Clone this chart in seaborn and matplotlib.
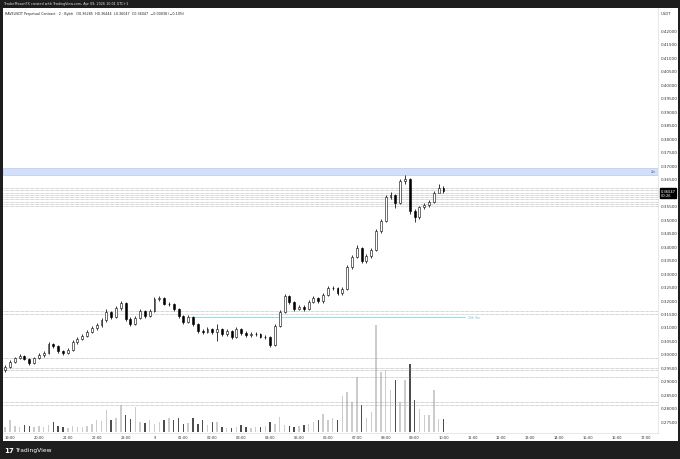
import numpy as np
import pandas as pd
import matplotlib
matplotlib.use("Agg")
import matplotlib.pyplot as plt
from matplotlib.patches import Rectangle
import seaborn as sns

sns.set_theme(style="white")
plt.rcParams['font.family'] = ['DejaVu Sans']

# ---------------- data (10-minute bars) ----------------
FIRST_OPEN = 0.2940
CLOSE = [0.2952, 0.2970, 0.2985, 0.2993, 0.2982, 0.2967, 0.2985, 0.2996, 0.3004, 0.3037,
         0.3030, 0.3011, 0.3004, 0.3015, 0.3044, 0.3056, 0.3067, 0.3081, 0.3096, 0.3107,
         0.3126, 0.3156, 0.3137, 0.3170, 0.3190, 0.3130, 0.3111, 0.3133, 0.3159, 0.3141,
         0.3159, 0.3204, 0.3207, 0.3185, 0.3185, 0.3167, 0.3141, 0.3119, 0.3137, 0.3111,
         0.3085, 0.3081, 0.3093, 0.3081, 0.3093, 0.3074, 0.3085, 0.3063, 0.3093, 0.3078,
         0.3070, 0.3074, 0.3074, 0.3063, 0.3063, 0.3033, 0.3104, 0.3156, 0.3215, 0.3193,
         0.3167, 0.3174, 0.3167, 0.3193, 0.3207, 0.3196, 0.3219, 0.3244, 0.3244, 0.3226,
         0.3241, 0.3322, 0.3359, 0.3393, 0.3344, 0.3363, 0.3385, 0.3456, 0.3493, 0.3582,
         0.3589, 0.3559, 0.3641, 0.3648, 0.3530, 0.3507, 0.3544, 0.3552, 0.3563, 0.3596,
         0.3615, 0.36047]
HIGH = [0.2960, 0.2976, 0.2990, 0.3000, 0.2997, 0.2986, 0.2990, 0.3002, 0.3012, 0.3045,
        0.3042, 0.3034, 0.3016, 0.3022, 0.3050, 0.3062, 0.3074, 0.3088, 0.3102, 0.3114,
        0.3132, 0.3165, 0.3160, 0.3178, 0.3196, 0.3194, 0.3136, 0.3140, 0.3166, 0.3164,
        0.3166, 0.3210, 0.3216, 0.3211, 0.3193, 0.3190, 0.3172, 0.3146, 0.3144, 0.3142,
        0.3116, 0.3092, 0.3100, 0.3098, 0.3111, 0.3098, 0.3092, 0.3090, 0.3100, 0.3098,
        0.3084, 0.3080, 0.3080, 0.3078, 0.3070, 0.3068, 0.3110, 0.3162, 0.3222, 0.3220,
        0.3198, 0.3182, 0.3180, 0.3200, 0.3214, 0.3212, 0.3226, 0.3252, 0.3252, 0.3250,
        0.3248, 0.3330, 0.3366, 0.3402, 0.3398, 0.3370, 0.3392, 0.3464, 0.3500, 0.3590,
        0.3600, 0.3594, 0.3650, 0.3663, 0.3652, 0.3536, 0.3550, 0.3560, 0.3570, 0.3604,
        0.3630, 0.3622]
LOW = [0.2935, 0.2948, 0.2965, 0.2980, 0.2976, 0.2960, 0.2962, 0.2980, 0.2990, 0.3000,
       0.3022, 0.3005, 0.2998, 0.3000, 0.3010, 0.3038, 0.3050, 0.3062, 0.3076, 0.3090,
       0.3100, 0.3120, 0.3130, 0.3132, 0.3164, 0.3124, 0.3104, 0.3106, 0.3128, 0.3135,
       0.3136, 0.3154, 0.3198, 0.3180, 0.3178, 0.3160, 0.3135, 0.3112, 0.3114, 0.3104,
       0.3078, 0.3074, 0.3076, 0.3074, 0.3048, 0.3068, 0.3068, 0.3056, 0.3058, 0.3072,
       0.3064, 0.3064, 0.3068, 0.3058, 0.3056, 0.3026, 0.3030, 0.3100, 0.3150, 0.3186,
       0.3160, 0.3162, 0.3160, 0.3162, 0.3188, 0.3190, 0.3190, 0.3214, 0.3236, 0.3220,
       0.3220, 0.3236, 0.3316, 0.3354, 0.3336, 0.3338, 0.3356, 0.3380, 0.3450, 0.3488,
       0.3574, 0.3540, 0.3554, 0.3630, 0.3520, 0.3489, 0.3500, 0.3538, 0.3546, 0.3558,
       0.3600, 0.3598]
VOLUME = [5, 12, 6, 5, 7, 6, 5, 6, 5, 7,
          10, 6, 5, 4, 6, 5, 5, 6, 8, 12,
          11, 22, 12, 14, 27, 17, 13, 25, 10, 9,
          12, 8, 10, 12, 14, 12, 14, 8, 9, 14,
          8, 12, 7, 10, 10, 5, 4, 4, 5, 7,
          5, 4, 5, 5, 6, 10, 8, 15, 7, 6,
          5, 6, 7, 8, 10, 12, 18, 12, 14, 12,
          36, 40, 30, 55, 27, 14, 20, 107, 60, 62,
          42, 52, 30, 52, 68, 32, 23, 17, 17, 42,
          13, 13]
BAR_MINUTES = 10
FIRST_BAR_HOURS = -10 / 60          # 18:50, hours relative to 19:00
LAST_PRICE = 0.36047

TIME_TICKS = list(range(23))
TIME_LABELS = ["19:00", "20:00", "21:00", "22:00", "23:00", "9", "01:00", "02:00",
               "03:00", "04:00", "05:00", "06:00", "07:00", "08:00", "09:00", "10:00",
               "11:00", "12:00", "13:00", "14:00", "15:00", "16:00", "17:00"]
# 0.36000 is hidden behind the last-price box in the reference
PRICE_TICKS = [0.275, 0.280, 0.285, 0.290, 0.295, 0.300, 0.305, 0.310, 0.315, 0.320,
               0.325, 0.330, 0.335, 0.340, 0.345, 0.350, 0.355, 0.365, 0.370,
               0.375, 0.380, 0.385, 0.390, 0.395, 0.400, 0.405, 0.410, 0.415, 0.420]

ZONE = (0.3663, 0.3689)
CLUSTER_LEVELS = [0.3614, 0.3606, 0.3598, 0.3589, 0.3581, 0.3573, 0.3564, 0.3556, 0.3548]
DOTTED_LEVELS = [0.3158, 0.3148, 0.2985, 0.2948, 0.2941, 0.2915, 0.2822, 0.2811]
CYAN_LEVEL = 0.3137
CYAN_SPAN = (6.2, 15.75)

# ---------------- derived frame ----------------
n = len(CLOSE)
opens = [FIRST_OPEN] + CLOSE[:-1]
t = FIRST_BAR_HOURS + np.arange(n) * BAR_MINUTES / 60.0
df = pd.DataFrame({"t": t, "open": opens, "high": HIGH, "low": LOW,
                   "close": CLOSE, "volume": VOLUME})
df["dir"] = np.where(df["close"] >= df["open"], "up", "down")

# ---------------- figure layout (pixel helpers) ----------------
W, H = 680, 460
def fx(x): return x / W
def fy(y): return 1 - y / H

fig = plt.figure(figsize=(6.8, 4.6), dpi=100, facecolor="#1e1e1e")
fig.patches.append(Rectangle((fx(3), fy(442)), (678 - 3) / W, (442 - 9) / H,
                             transform=fig.transFigure, facecolor="white",
                             edgecolor="none", zorder=-10))

L, R, T, B = 3, 658, 9, 434
pos = [fx(L), fy(B), (R - L) / W, (B - T) / H]
XLIM = ((L - 10) / 28.9, (R - 10) / 28.9)
YLIM = (0.27074, 0.42815)

# volume pane (underneath)
axv = fig.add_axes(pos)
axv.set_facecolor("white")
axv.set_zorder(1)
sns.barplot(data=df, x="t", y="volume", hue="dir", native_scale=True, dodge=False,
            palette={"up": "#cccccc", "down": "#4d4d4d"}, width=0.3,
            errorbar=None, legend=False, ax=axv, linewidth=0)
axv.set_xlim(*XLIM)
axv.set_ylim(-1, 424)
axv.set_xticks([]); axv.set_yticks([])
axv.set_xlabel(""); axv.set_ylabel("")
for s in axv.spines.values():
    s.set_visible(False)

# price pane
ax = fig.add_axes(pos)
ax.set_zorder(2)
ax.patch.set_alpha(0)
ax.set_xlim(*XLIM)
ax.set_ylim(*YLIM)

ax.axhspan(ZONE[0], ZONE[1], facecolor="#d4e0f8", edgecolor="#a9bff0", lw=0.4, zorder=1)
ax.text(XLIM[1] - 0.08, sum(ZONE) / 2, "2m", fontsize=2.2, color="#555555",
        ha="right", va="center", zorder=2)
for lv in CLUSTER_LEVELS + DOTTED_LEVELS:
    ax.axhline(lv, color="#9a9a9a", lw=0.45, ls=(0, (1, 1)), zorder=1)
ax.hlines(CYAN_LEVEL, CYAN_SPAN[0], CYAN_SPAN[1], color="#86d6e9", lw=0.6, zorder=1)
ax.text(CYAN_SPAN[1] + 0.1, CYAN_LEVEL, "26h 9m", fontsize=2.2, color="#5fbfd8",
        ha="left", va="center", zorder=2)

# candles
w = 0.4 * BAR_MINUTES / 60.0
ax.vlines(df["t"], df["low"], df["high"], color="black", lw=0.55, zorder=3)
body_lo = np.minimum(df["open"], df["close"])
body_h = np.maximum(np.abs(df["close"] - df["open"]), 0.00012)
fills = np.where(df["dir"] == "up", "white", "black")
ax.bar(df["t"], body_h, bottom=body_lo, width=w, color=fills, edgecolor="black",
       lw=0.4, zorder=4)

# axes styling
for s in ["top", "left"]:
    ax.spines[s].set_visible(False)
ax.spines["right"].set_color("#e3e3e3"); ax.spines["right"].set_linewidth(0.6)
ax.spines["bottom"].set_color("#e3e3e3"); ax.spines["bottom"].set_linewidth(0.6)
ax.yaxis.tick_right()
ax.set_yticks(PRICE_TICKS)
ax.set_yticklabels([f"{p:.5f}" for p in PRICE_TICKS])
ax.set_xticks(TIME_TICKS)
ax.set_xticklabels(TIME_LABELS)
ax.tick_params(axis="y", length=0, pad=2.2, labelsize=3, labelcolor="#333333")
ax.tick_params(axis="x", length=0, pad=1.3, labelsize=2.6, labelcolor="#333333")
ax.grid(False)

# last price box
ax.text(1.004, LAST_PRICE + 0.0006, "0.36047\n00:26", transform=ax.get_yaxis_transform(),
        fontsize=2.6, color="white", ha="left", va="top", linespacing=1.1,
        bbox=dict(facecolor="black", edgecolor="black", pad=0.6), zorder=6)

# texts
fig.text(fx(661), fy(14), "USDT", fontsize=2.8, color="#333333", va="center")
fig.text(fx(4), fy(4.5), "TraderMasonFX created with TradingView.com, Apr 09, 2026 10:01 UTC+1",
         fontsize=2.4, color="#e0e0e0", va="center")
fig.text(fx(5), fy(14.5),
         "RAVEUSDT Perpetual Contract · 2 · Bybit   O0.36285  H0.36444  L0.36047  C0.36047  \u22120.00038 (\u22120.10%)",
         fontsize=2.4, color="#222222", va="center")
fig.text(fx(4), fy(451), "17", fontsize=5, fontweight="bold", color="white", va="center")
fig.text(fx(15.5), fy(451), "TradingView", fontsize=4.3, color="white", va="center")

fig.savefig("out.png", dpi=100, facecolor=fig.get_facecolor())
